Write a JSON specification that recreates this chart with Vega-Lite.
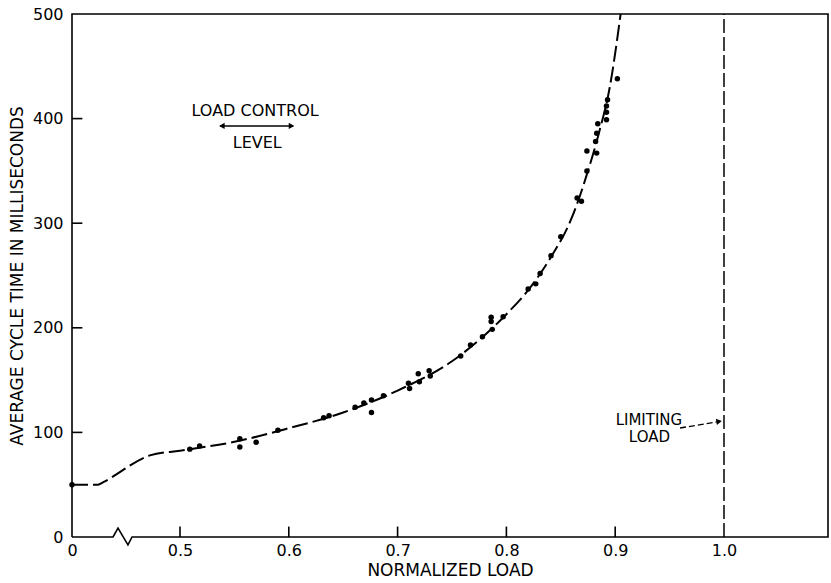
{
  "$schema": "https://vega.github.io/schema/vega-lite/v6.json",
  "width": 756,
  "height": 523,
  "autosize": "none",
  "padding": {"left": 72, "top": 14, "right": 3, "bottom": 46},
  "background": "white",
  "config": {
    "view": {"stroke": null},
    "font": "DejaVu Sans",
    "axis": {
      "grid": false,
      "domain": false,
      "ticks": false,
      "labelFont": "DejaVu Sans",
      "titleFont": "DejaVu Sans",
      "labelFontSize": 16,
      "titleFontSize": 17,
      "titleFontWeight": "normal",
      "labelColor": "black",
      "titleColor": "black",
      "labelFlush": false,
      "labelOverlap": false
    }
  },
  "datasets": {
    "points": [
      {"x": 0, "y": 50},
      {"x": 0.509, "y": 84},
      {"x": 0.518, "y": 87},
      {"x": 0.555, "y": 94},
      {"x": 0.555, "y": 86},
      {"x": 0.570, "y": 90.5},
      {"x": 0.590, "y": 102},
      {"x": 0.632, "y": 114},
      {"x": 0.637, "y": 116},
      {"x": 0.661, "y": 124},
      {"x": 0.669, "y": 128},
      {"x": 0.676, "y": 131},
      {"x": 0.676, "y": 119},
      {"x": 0.687, "y": 135},
      {"x": 0.710, "y": 147},
      {"x": 0.711, "y": 142},
      {"x": 0.719, "y": 156},
      {"x": 0.720, "y": 148.5},
      {"x": 0.729, "y": 159},
      {"x": 0.730, "y": 154},
      {"x": 0.758, "y": 173},
      {"x": 0.767, "y": 183.5},
      {"x": 0.778, "y": 191.5},
      {"x": 0.786, "y": 210},
      {"x": 0.786, "y": 206},
      {"x": 0.787, "y": 198.5},
      {"x": 0.797, "y": 210.6},
      {"x": 0.820, "y": 237},
      {"x": 0.827, "y": 242},
      {"x": 0.831, "y": 252},
      {"x": 0.841, "y": 269},
      {"x": 0.850, "y": 287},
      {"x": 0.865, "y": 324},
      {"x": 0.869, "y": 321},
      {"x": 0.874, "y": 350},
      {"x": 0.874, "y": 369},
      {"x": 0.882, "y": 378},
      {"x": 0.883, "y": 367},
      {"x": 0.883, "y": 386},
      {"x": 0.884, "y": 395},
      {"x": 0.892, "y": 399},
      {"x": 0.892, "y": 406},
      {"x": 0.892, "y": 412},
      {"x": 0.893, "y": 418},
      {"x": 0.902, "y": 438}
    ],
    "curve": [
      {"x": 0, "y": 50},
      {"x": 0.12, "y": 50},
      {"x": 0.145, "y": 52.5},
      {"x": 0.361, "y": 78},
      {"x": 0.5, "y": 82.5},
      {"x": 0.55, "y": 91},
      {"x": 0.6, "y": 104},
      {"x": 0.65, "y": 119},
      {"x": 0.7, "y": 140},
      {"x": 0.75, "y": 168},
      {"x": 0.8, "y": 213},
      {"x": 0.82, "y": 236},
      {"x": 0.84, "y": 266},
      {"x": 0.86, "y": 305},
      {"x": 0.875, "y": 350},
      {"x": 0.885, "y": 386},
      {"x": 0.895, "y": 430},
      {"x": 0.905, "y": 500}
    ],
    "frame": [
      {"i": 0, "x": 0, "y": 0},
      {"i": 1, "x": 0, "y": 500},
      {"i": 2, "x": 1.0956, "y": 500},
      {"i": 3, "x": 1.0956, "y": 0},
      {"i": 4, "x": 0.278, "y": 0},
      {"i": 5, "x": 0.259, "y": -7.6},
      {"i": 6, "x": 0.213, "y": 8.6},
      {"i": 7, "x": 0.19, "y": 0},
      {"i": 8, "x": 0, "y": 0}
    ],
    "tickmarks": [
      {"x": 0.5, "y": 0, "x2": 0.5, "y2": 10},
      {"x": 0.6, "y": 0, "x2": 0.6, "y2": 10},
      {"x": 0.7, "y": 0, "x2": 0.7, "y2": 10},
      {"x": 0.8, "y": 0, "x2": 0.8, "y2": 10},
      {"x": 0.9, "y": 0, "x2": 0.9, "y2": 10},
      {"x": 0, "y": 100, "x2": 0.048, "y2": 100},
      {"x": 0, "y": 200, "x2": 0.048, "y2": 200},
      {"x": 0, "y": 300, "x2": 0.048, "y2": 300},
      {"x": 0, "y": 400, "x2": 0.048, "y2": 400}
    ],
    "limit": [
      {"x": 1.0, "y": 0},
      {"x": 1.0, "y": 500}
    ],
    "arrow": [
      {"x": 0.537, "y": 393},
      {"x": 0.604, "y": 393}
    ],
    "limitArrow": [
      {"x": 0.9596, "y": 104.2},
      {"x": 0.994, "y": 110.2}
    ],
    "heads": [
      {"kind": "left", "x": 0.5385, "y": 393},
      {"kind": "right", "x": 0.6025, "y": 393},
      {"kind": "limit", "x": 0.9955, "y": 110.5}
    ],
    "labels": [
      {"group": "control", "x": 0.569, "y": 407, "text": "LOAD CONTROL"},
      {"group": "control", "x": 0.571, "y": 377, "text": "LEVEL"},
      {"group": "limit", "x": 0.931, "y": 112, "text": "LIMITING"},
      {"group": "limit", "x": 0.9315, "y": 95.4, "text": "LOAD"}
    ]
  },
  "encoding": {
    "x": {
      "field": "x",
      "type": "quantitative",
      "scale": {"type": "linear", "domain": [0, 0.5, 1.0956], "range": [0, 108, 756], "zero": false, "nice": false},
      "axis": {
        "title": "NORMALIZED LOAD",
        "values": [0, 0.5, 0.6, 0.7, 0.8, 0.9, 1.0],
        "labelExpr": "datum.value == 0 ? '0' : format(datum.value, '.1f')",
        "labelPadding": 5,
        "titlePadding": 4
      }
    },
    "y": {
      "field": "y",
      "type": "quantitative",
      "scale": {"domain": [0, 500], "zero": false, "nice": false},
      "axis": {
        "title": "AVERAGE CYCLE TIME IN MILLISECONDS",
        "values": [0, 100, 200, 300, 400, 500],
        "labelPadding": 9,
        "titlePadding": 6
      }
    }
  },
  "layer": [
    {
      "data": {"name": "frame"},
      "mark": {"type": "line", "color": "black", "strokeWidth": 1.6, "clip": false},
      "encoding": {"order": {"field": "i", "type": "quantitative"}}
    },
    {
      "data": {"name": "tickmarks"},
      "mark": {"type": "rule", "color": "black", "strokeWidth": 1.6},
      "encoding": {
        "x2": {"field": "x2"},
        "y2": {"field": "y2"}
      }
    },
    {
      "data": {"name": "limit"},
      "mark": {"type": "line", "color": "black", "strokeWidth": 1.5, "strokeDash": [14, 4]}
    },
    {
      "data": {"name": "curve"},
      "mark": {"type": "line", "color": "black", "strokeWidth": 2, "interpolate": "monotone", "strokeDash": [16, 5]}
    },
    {
      "data": {"name": "points"},
      "mark": {"type": "circle", "color": "black", "opacity": 1, "size": 30}
    },
    {
      "data": {"name": "arrow"},
      "mark": {"type": "line", "color": "black", "strokeWidth": 1.5}
    },
    {
      "data": {"name": "limitArrow"},
      "mark": {"type": "line", "color": "black", "strokeWidth": 1.3, "strokeDash": [6, 3]}
    },
    {
      "data": {"name": "heads"},
      "transform": [{"filter": "datum.kind == 'left'"}],
      "mark": {"type": "point", "shape": "triangle-left", "filled": true, "color": "black", "opacity": 1, "size": 40}
    },
    {
      "data": {"name": "heads"},
      "transform": [{"filter": "datum.kind == 'right'"}],
      "mark": {"type": "point", "shape": "triangle-right", "filled": true, "color": "black", "opacity": 1, "size": 40}
    },
    {
      "data": {"name": "heads"},
      "transform": [{"filter": "datum.kind == 'limit'"}],
      "mark": {"type": "point", "shape": "triangle-right", "filled": true, "color": "black", "opacity": 1, "size": 40, "angle": -10}
    },
    {
      "data": {"name": "labels"},
      "transform": [{"filter": "datum.group == 'control'"}],
      "mark": {"type": "text", "fontSize": 16, "font": "DejaVu Sans", "color": "black", "align": "center", "baseline": "middle"},
      "encoding": {"text": {"field": "text", "type": "nominal"}}
    },
    {
      "data": {"name": "labels"},
      "transform": [{"filter": "datum.group == 'limit'"}],
      "mark": {"type": "text", "fontSize": 15, "font": "DejaVu Sans", "color": "black", "align": "center", "baseline": "middle"},
      "encoding": {"text": {"field": "text", "type": "nominal"}}
    }
  ]
}
